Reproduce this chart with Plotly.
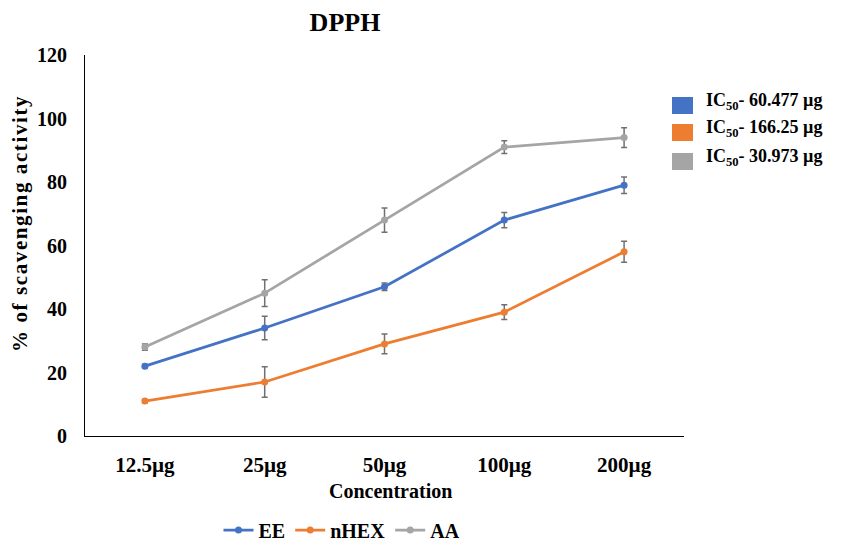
import plotly.graph_objects as go

categories = ["12.5µg", "25µg", "50µg", "100µg", "200µg"]
ee = [22, 34, 47, 68, 79]
ee_err = [0.6, 3.7, 1.2, 2.4, 2.6]
nhex = [11, 17, 29, 39, 58]
nhex_err = [0.5, 4.8, 3.1, 2.3, 3.3]
aa = [28, 45, 68, 91, 94]
aa_err = [1.0, 4.2, 3.8, 2.0, 3.1]
series_names = ["EE", "nHEX", "AA"]
colors = ["#4472C4", "#ED7D31", "#A5A5A5"]
ic50_labels = ["IC<sub>50</sub>- 60.477 µg", "IC<sub>50</sub>- 166.25 µg", "IC<sub>50</sub>- 30.973 µg"]

FONT = "Liberation Serif"
W, H = 851, 542
L, R, T, B = 85, 167, 55, 106
PW, PH = W - L - R, H - T - B

def px(x):
    return (x - L) / PW

def py(y):
    return (H - B - y) / PH

fig = go.Figure()
for name, vals, errs, col in zip(series_names, [ee, nhex, aa], [ee_err, nhex_err, aa_err], colors):
    fig.add_trace(go.Scatter(
        x=categories, y=vals, name="<b>" + name + "</b>", mode="lines+markers",
        line=dict(color=col, width=2.75),
        marker=dict(color=col, size=7),
        error_y=dict(type="data", array=errs, visible=True, color="#707070", thickness=1.5, width=3),
    ))

fig.update_layout(
    width=W, height=H,
    margin=dict(l=L, r=R, t=T, b=B),
    paper_bgcolor="white", plot_bgcolor="white",
    font=dict(family=FONT, color="black", size=15),
    title=dict(text="<b>DPPH</b>", x=345 / W, xanchor="center", y=1 - 22 / H, yanchor="middle",
               font=dict(family=FONT, size=26, color="black")),
    showlegend=True,
    legend=dict(orientation="h", x=342 / W, xanchor="center", xref="container",
                y=1 - 530 / H, yanchor="middle", yref="container",
                font=dict(family=FONT, size=20, color="black"), itemwidth=30, tracegroupgap=0),
    xaxis=dict(range=[-0.5, 4.5], showgrid=False, showline=True, linecolor="black", linewidth=1, ticks="",
               automargin=False,
               tickfont=dict(family=FONT, size=21, color="black"), ticklabelstandoff=10),
    yaxis=dict(range=[0, 120], dtick=20, showgrid=False, showline=True, linecolor="black", linewidth=1,
               ticks="", zeroline=False, automargin=False,
               tickfont=dict(family=FONT, size=20, color="black"), ticklabelstandoff=13),
)
fig.update_xaxes(tickprefix="<b>", ticksuffix="</b>")
fig.update_yaxes(tickprefix="<b>", ticksuffix="</b>")

# axis titles
fig.add_annotation(xref="paper", yref="paper", x=px(390), y=py(491), text="<b>Concentration</b>",
                   showarrow=False, xanchor="center", yanchor="middle",
                   font=dict(family=FONT, size=20, color="black"))
fig.add_annotation(xref="paper", yref="paper", x=px(20), y=py(224),
                   text="<b><span style='letter-spacing:1.6px'>% of scavenging activity</span></b>",
                   showarrow=False, xanchor="center", yanchor="middle", textangle=-90,
                   font=dict(family=FONT, size=21, color="black"))

# IC50 side legend
centers = [105.5, 132.5, 161.5]
for lab, col, yc in zip(ic50_labels, colors, centers):
    fig.add_shape(type="rect", xref="paper", yref="paper",
                  x0=px(672), x1=px(693), y0=py(yc + 8.5), y1=py(yc - 8.5),
                  fillcolor=col, line=dict(width=0))
    fig.add_annotation(xref="paper", yref="paper", x=px(704), y=py(yc - 4),
                       text="<b>" + lab + "</b>", showarrow=False, xanchor="left", yanchor="middle",
                       font=dict(family=FONT, size=18, color="black"))

fig.write_html("out.html")
